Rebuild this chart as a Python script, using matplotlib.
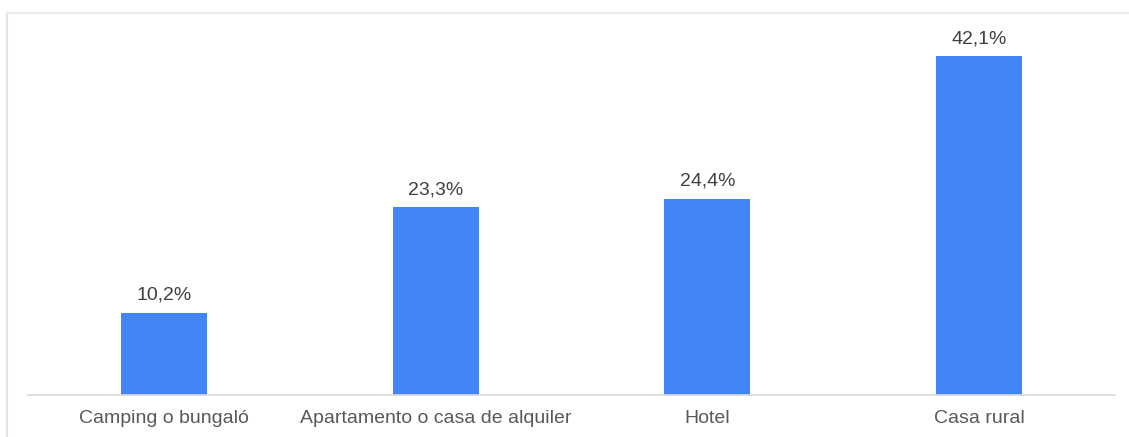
import numpy as np
from matplotlib import pyplot as plt
from matplotlib.lines import Line2D

categories = ['Camping o bungaló', 'Apartamento o casa de alquiler', 'Hotel', 'Casa rural']
values = [10.2, 23.3, 24.4, 42.1]
labels = ['10,2%', '23,3%', '24,4%', '42,1%']

plt.rcParams['font.family'] = ['Liberation Sans', 'DejaVu Sans']

W, H = 1129, 437
fig = plt.figure(figsize=(W / 100, H / 100), dpi=100)
ax = fig.add_axes([28 / W, (H - 395) / H, (1115 - 28) / W, (395 - 13) / H])

x = np.arange(len(categories))
bars = ax.bar(x, values, width=0.316, color='#4285F4', zorder=2)

for rect, lab in zip(bars, labels):
    ax.annotate(lab, (rect.get_x() + rect.get_width() / 2, rect.get_height()),
                xytext=(0, 6.5), textcoords='offset points', ha='center', va='bottom',
                fontsize=14, color='#404040')

ax.set_xlim(-0.5, 3.5)
ax.set_ylim(0, 47.45)
ax.set_xticks(x)
ax.set_xticklabels(categories, fontsize=14, color='#595959')
ax.tick_params(axis='x', length=0, pad=11)
ax.set_yticks([])
for s in ['top', 'right', 'left']:
    ax.spines[s].set_visible(False)
ax.spines['bottom'].set_color('#d9d9d9')
ax.spines['bottom'].set_linewidth(1.2)

# light frame at left and top
fig.add_artist(Line2D([6.5 / W, 6.5 / W], [0, 1 - 12.5 / H], color='#e3e3e3', lw=1.5))
fig.add_artist(Line2D([6.5 / W, 1], [1 - 12.5 / H, 1 - 12.5 / H], color='#ececec', lw=1.5))

plt.savefig('out.png', dpi=100)
